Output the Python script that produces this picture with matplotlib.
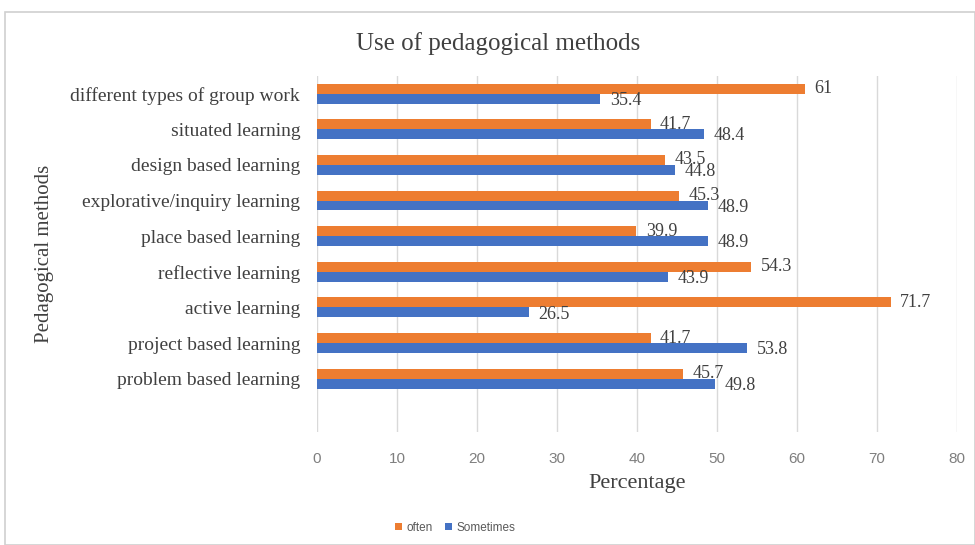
import matplotlib
matplotlib.use("Agg")
import matplotlib.pyplot as plt
from matplotlib.patches import Rectangle
import numpy as np

categories = ["different types of group work", "situated learning", "design based learning",
              "explorative/inquiry learning", "place based learning", "reflective learning",
              "active learning", "project based learning", "problem based learning"]
often = [61, 41.7, 43.5, 45.3, 39.9, 54.3, 71.7, 41.7, 45.7]
sometimes = [35.4, 48.4, 44.8, 48.9, 48.9, 43.9, 26.5, 53.8, 49.8]
xticks = [0, 10, 20, 30, 40, 50, 60, 70, 80]

ORANGE = "#ED7D31"
BLUE = "#4472C4"
SERIF = ["Liberation Serif", "DejaVu Serif"]
SANS = ["Liberation Sans", "DejaVu Sans"]

fig = plt.figure(figsize=(9.75, 5.45), dpi=100)
fig.patches.append(Rectangle((0.005, 0.0), 0.995, 0.978, transform=fig.transFigure,
                             fill=False, edgecolor="#d0d0d0", linewidth=1.2))
ax = fig.add_axes([0.325, 0.207, 0.6565, 0.654])

n = len(categories)
y = np.arange(n)
h = 0.28
ax.barh(y - h / 2, often, height=h, color=ORANGE, label="often", zorder=3)
ax.barh(y + h / 2, sometimes, height=h, color=BLUE, label="Sometimes", zorder=3)

for yi, v in zip(y, often):
    ax.text(v + 1.2, yi - h / 2, f"{v:g}", va="center", ha="left", fontsize=13,
            family=SERIF, color="#404040", zorder=4)
for yi, v in zip(y, sometimes):
    ax.text(v + 1.2, yi + h / 2 + 0.05, f"{v:g}", va="center", ha="left", fontsize=13,
            family=SERIF, color="#404040", zorder=4)

ax.set_ylim(n + 0.5, -0.5)
ax.set_xlim(0, 80)
ax.set_yticks(y)
ax.set_yticklabels(categories, family=SERIF, fontsize=14, color="#404040")
ax.set_xticks(xticks)
ax.set_xticklabels([str(t) for t in xticks], family=SANS, fontsize=11, color="#7f7f7f")
ax.tick_params(axis="both", length=0)
ax.tick_params(axis="x", pad=14)
ax.tick_params(axis="y", pad=12)
ax.grid(axis="x", color="#d9d9d9", linewidth=1, zorder=0)
for s in ax.spines.values():
    s.set_visible(False)

ax.set_xlabel("Percentage", family=SERIF, fontsize=16, color="#404040", labelpad=6)
ax.set_ylabel("Pedagogical methods", family=SERIF, fontsize=15, color="#404040", labelpad=12)
fig.text(0.511, 0.92, "Use of pedagogical methods", ha="center", va="center",
         family=SERIF, fontsize=18, color="#404040")

leg = fig.legend(loc="center", bbox_to_anchor=(0.467, 0.032), ncol=2, frameon=False,
                 prop={"family": SANS, "size": 8.5}, handlelength=0.6, handleheight=0.6,
                 columnspacing=1.0, handletextpad=0.4)
for t in leg.get_texts():
    t.set_color("#595959")

fig.savefig("out.png", dpi=100)
